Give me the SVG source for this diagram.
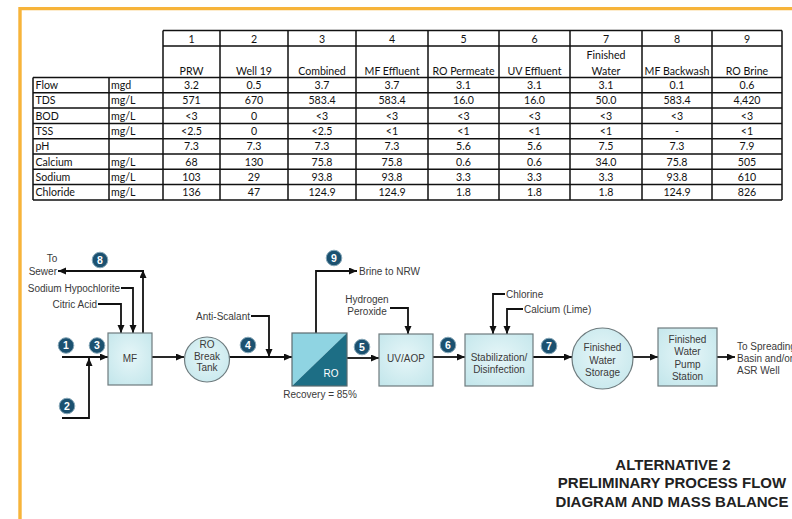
<svg xmlns="http://www.w3.org/2000/svg" width="792" height="519" viewBox="0 0 792 519">
<defs>
<style>
.tb{font-family:Lato,"Liberation Sans",sans-serif;font-size:10.6px;fill:#111}
.c{text-anchor:middle}
.grid{fill:none;stroke:#111;stroke-width:1.5}
.lbl{font-family:"Liberation Sans",Arial,sans-serif;font-size:10px;fill:#3a3a3a}
.box{fill:url(#bg);stroke:#6e7b7e;stroke-width:1.2}
.num circle{fill:#1B5170;stroke:#86a7b8;stroke-width:1}
.num text{font-family:"Liberation Sans",Arial,sans-serif;font-size:10.5px;font-weight:bold;fill:#fff;text-anchor:middle}
.con{fill:none;stroke:#111;stroke-width:1.8;marker-end:url(#ah)}
.title{font-family:"Liberation Sans",Arial,sans-serif;font-size:15px;font-weight:bold;fill:#222;text-anchor:middle}
</style>
<radialGradient id="bg" cx="50%" cy="45%" r="70%">
<stop offset="0" stop-color="#E6F6F8"/>
<stop offset="1" stop-color="#C3E6EB"/>
</radialGradient>
<marker id="ah" markerUnits="userSpaceOnUse" markerWidth="9" markerHeight="8" refX="8" refY="3.5" orient="auto">
<path d="M0,0 L8,3.5 L0,7 z" fill="#111"/>
</marker>
</defs>
<rect width="792" height="519" fill="#fff"/>
<path d="M20,519 V8.6 H792" fill="none" stroke="#F7B43A" stroke-width="3.4"/>

<g id="table">
<path class="grid" d="M163,30.5 H782 M163,46 H782 M33,77.5 H782 M33,92.8 H782 M33,108.1 H782 M33,123.4 H782 M33,138.7 H782 M33,154 H782 M33,169.3 H782 M33,184.6 H782 M33,199.9 H782 M33,77.5 V199.9 M109,77.5 V199.9 M163,30.5 V199.9 M220,30.5 V199.9 M288,30.5 V199.9 M356,30.5 V199.9 M428,30.5 V199.9 M499,30.5 V199.9 M570,30.5 V199.9 M642,30.5 V199.9 M712,30.5 V199.9 M782,30.5 V199.9"/>
<g class="tb c">
<text x="191.5" y="42.5">1</text><text x="254" y="42.5">2</text><text x="322" y="42.5">3</text><text x="392" y="42.5">4</text><text x="463.5" y="42.5">5</text><text x="534.5" y="42.5">6</text><text x="606" y="42.5">7</text><text x="677" y="42.5">8</text><text x="747" y="42.5">9</text>
<text x="191.5" y="74.5">PRW</text><text x="254" y="74.5">Well 19</text><text x="322" y="74.5">Combined</text><text x="392" y="74.5">MF Effluent</text><text x="463.5" y="74.5">RO Permeate</text><text x="534.5" y="74.5">UV Effluent</text><text x="606" y="58.5">Finished</text><text x="606" y="74.5">Water</text><text x="677" y="74.5">MF Backwash</text><text x="747" y="74.5">RO Brine</text>
</g>
<g class="tb">
<text x="35.5" y="89">Flow</text><text x="111" y="89">mgd</text>
<text x="35.5" y="104.3">TDS</text><text x="111" y="104.3">mg/L</text>
<text x="35.5" y="119.6">BOD</text><text x="111" y="119.6">mg/L</text>
<text x="35.5" y="134.9">TSS</text><text x="111" y="134.9">mg/L</text>
<text x="35.5" y="150.2">pH</text>
<text x="35.5" y="165.5">Calcium</text><text x="111" y="165.5">mg/L</text>
<text x="35.5" y="180.8">Sodium</text><text x="111" y="180.8">mg/L</text>
<text x="35.5" y="196.1">Chloride</text><text x="111" y="196.1">mg/L</text>
</g>
<g class="tb c">
<text x="191.5" y="89">3.2</text><text x="254" y="89">0.5</text><text x="322" y="89">3.7</text><text x="392" y="89">3.7</text><text x="463.5" y="89">3.1</text><text x="534.5" y="89">3.1</text><text x="606" y="89">3.1</text><text x="677" y="89">0.1</text><text x="747" y="89">0.6</text>
<text x="191.5" y="104.3">571</text><text x="254" y="104.3">670</text><text x="322" y="104.3">583.4</text><text x="392" y="104.3">583.4</text><text x="463.5" y="104.3">16.0</text><text x="534.5" y="104.3">16.0</text><text x="606" y="104.3">50.0</text><text x="677" y="104.3">583.4</text><text x="747" y="104.3">4,420</text>
<text x="191.5" y="119.6">&lt;3</text><text x="254" y="119.6">0</text><text x="322" y="119.6">&lt;3</text><text x="392" y="119.6">&lt;3</text><text x="463.5" y="119.6">&lt;3</text><text x="534.5" y="119.6">&lt;3</text><text x="606" y="119.6">&lt;3</text><text x="677" y="119.6">&lt;3</text><text x="747" y="119.6">&lt;3</text>
<text x="191.5" y="134.9">&lt;2.5</text><text x="254" y="134.9">0</text><text x="322" y="134.9">&lt;2.5</text><text x="392" y="134.9">&lt;1</text><text x="463.5" y="134.9">&lt;1</text><text x="534.5" y="134.9">&lt;1</text><text x="606" y="134.9">&lt;1</text><text x="677" y="134.9">-</text><text x="747" y="134.9">&lt;1</text>
<text x="191.5" y="150.2">7.3</text><text x="254" y="150.2">7.3</text><text x="322" y="150.2">7.3</text><text x="392" y="150.2">7.3</text><text x="463.5" y="150.2">5.6</text><text x="534.5" y="150.2">5.6</text><text x="606" y="150.2">7.5</text><text x="677" y="150.2">7.3</text><text x="747" y="150.2">7.9</text>
<text x="191.5" y="165.5">68</text><text x="254" y="165.5">130</text><text x="322" y="165.5">75.8</text><text x="392" y="165.5">75.8</text><text x="463.5" y="165.5">0.6</text><text x="534.5" y="165.5">0.6</text><text x="606" y="165.5">34.0</text><text x="677" y="165.5">75.8</text><text x="747" y="165.5">505</text>
<text x="191.5" y="180.8">103</text><text x="254" y="180.8">29</text><text x="322" y="180.8">93.8</text><text x="392" y="180.8">93.8</text><text x="463.5" y="180.8">3.3</text><text x="534.5" y="180.8">3.3</text><text x="606" y="180.8">3.3</text><text x="677" y="180.8">93.8</text><text x="747" y="180.8">610</text>
<text x="191.5" y="196.1">136</text><text x="254" y="196.1">47</text><text x="322" y="196.1">124.9</text><text x="392" y="196.1">124.9</text><text x="463.5" y="196.1">1.8</text><text x="534.5" y="196.1">1.8</text><text x="606" y="196.1">1.8</text><text x="677" y="196.1">124.9</text><text x="747" y="196.1">826</text>
</g>
</g>

<g id="connectors">
<path class="con" d="M143,333 V270"/>
<path class="con" d="M144,271 H58"/>
<path class="con" d="M121,288 H133 V333"/>
<path class="con" d="M98,304 H121 V333"/>
<path class="con" d="M62,357 H108"/>
<path class="con" d="M62,418 H89 V358"/>
<path class="con" d="M152,357 H184"/>
<path class="con" d="M229,357 H292"/>
<path class="con" d="M251,316 H269 V357"/>
<path class="con" d="M316,333 V271 H357"/>
<path class="con" d="M347,358 H379"/>
<path class="con" d="M390,308 H408 V334"/>
<path class="con" d="M433,357 H465"/>
<path class="con" d="M505,294 H493 V334"/>
<path class="con" d="M523,309 H507 V334"/>
<path class="con" d="M533,357 H572"/>
<path class="con" d="M633,357 H658"/>
<path class="con" d="M717,357 H735"/>
</g>

<g id="labels" class="lbl">
<text x="52" y="261.5" text-anchor="middle">To</text>
<text x="57" y="274.5" text-anchor="end">Sewer</text>
<text x="120" y="291.5" text-anchor="end">Sodium Hypochlorite</text>
<text x="97" y="307.5" text-anchor="end">Citric Acid</text>
<text x="250" y="319.5" text-anchor="end">Anti-Scalant</text>
<text x="359" y="274.5">Brine to NRW</text>
<text x="367" y="302.5" text-anchor="middle">Hydrogen</text>
<text x="367" y="314.5" text-anchor="middle">Peroxide</text>
<text x="506" y="297.5">Chlorine</text>
<text x="524" y="312.5">Calcium (Lime)</text>
<text x="737" y="349.5">To Spreading</text>
<text x="737" y="361.5">Basin and/or</text>
<text x="737" y="373.5">ASR Well</text>
</g>

<g id="mf">
<rect class="box" x="108" y="333" width="44" height="52"/>
<text class="lbl" x="130" y="361.5" text-anchor="middle">MF</text>
</g>
<g id="ro-break-tank">
<circle class="box" cx="207" cy="359.5" r="22.5"/>
<text class="lbl" x="207" y="347.5" text-anchor="middle">RO</text>
<text class="lbl" x="207" y="359.5" text-anchor="middle">Break</text>
<text class="lbl" x="207" y="371" text-anchor="middle">Tank</text>
</g>
<g id="ro">
<polygon points="292,333 347,333 292,386" fill="#8FD4E2"/>
<polygon points="347,333 347,386 292,386" fill="#1D6E85"/>
<rect x="292" y="333" width="55" height="53" fill="none" stroke="#5b6b70" stroke-width="1.2"/>
<text class="lbl" x="331" y="376.5" text-anchor="middle" style="fill:#fff">RO</text>
<text class="lbl" x="320" y="397.5" text-anchor="middle">Recovery = 85%</text>
</g>
<g id="uv-aop">
<rect class="box" x="379" y="334" width="54" height="52"/>
<text class="lbl" x="406" y="361.5" text-anchor="middle">UV/AOP</text>
</g>
<g id="stabilization">
<rect class="box" x="465" y="334" width="68" height="52"/>
<text class="lbl" x="499" y="360.5" text-anchor="middle">Stabilization/</text>
<text class="lbl" x="499" y="372.5" text-anchor="middle">Disinfection</text>
</g>
<g id="finished-water-storage">
<circle class="box" cx="602.5" cy="358.5" r="30.5"/>
<text class="lbl" x="602.5" y="350.5" text-anchor="middle">Finished</text>
<text class="lbl" x="602.5" y="363.5" text-anchor="middle">Water</text>
<text class="lbl" x="602.5" y="375.5" text-anchor="middle">Storage</text>
</g>
<g id="pump-station">
<rect class="box" x="658" y="328" width="59" height="58"/>
<text class="lbl" x="687.5" y="342.5" text-anchor="middle">Finished</text>
<text class="lbl" x="687.5" y="354.5" text-anchor="middle">Water</text>
<text class="lbl" x="687.5" y="367.5" text-anchor="middle">Pump</text>
<text class="lbl" x="687.5" y="379.5" text-anchor="middle">Station</text>
</g>

<g id="stream-numbers" class="num">
<g><circle cx="100" cy="260" r="7.8"/><text x="100" y="263.8">8</text></g>
<g><circle cx="66" cy="345.5" r="7.8"/><text x="66" y="349.3">1</text></g>
<g><circle cx="97" cy="345.5" r="7.8"/><text x="97" y="349.3">3</text></g>
<g><circle cx="67" cy="406" r="7.8"/><text x="67" y="409.8">2</text></g>
<g><circle cx="248" cy="345" r="7.8"/><text x="248" y="348.8">4</text></g>
<g><circle cx="334" cy="258" r="7.8"/><text x="334" y="261.8">9</text></g>
<g><circle cx="362" cy="347" r="7.8"/><text x="362" y="350.8">5</text></g>
<g><circle cx="448" cy="345" r="7.8"/><text x="448" y="348.8">6</text></g>
<g><circle cx="549" cy="346" r="7.8"/><text x="549" y="349.8">7</text></g>
</g>

<g id="title" class="title">
<text x="673" y="469.5">ALTERNATIVE 2</text>
<text x="672" y="487.5">PRELIMINARY PROCESS FLOW</text>
<text x="672" y="506.5">DIAGRAM AND MASS BALANCE</text>
</g>
</svg>
